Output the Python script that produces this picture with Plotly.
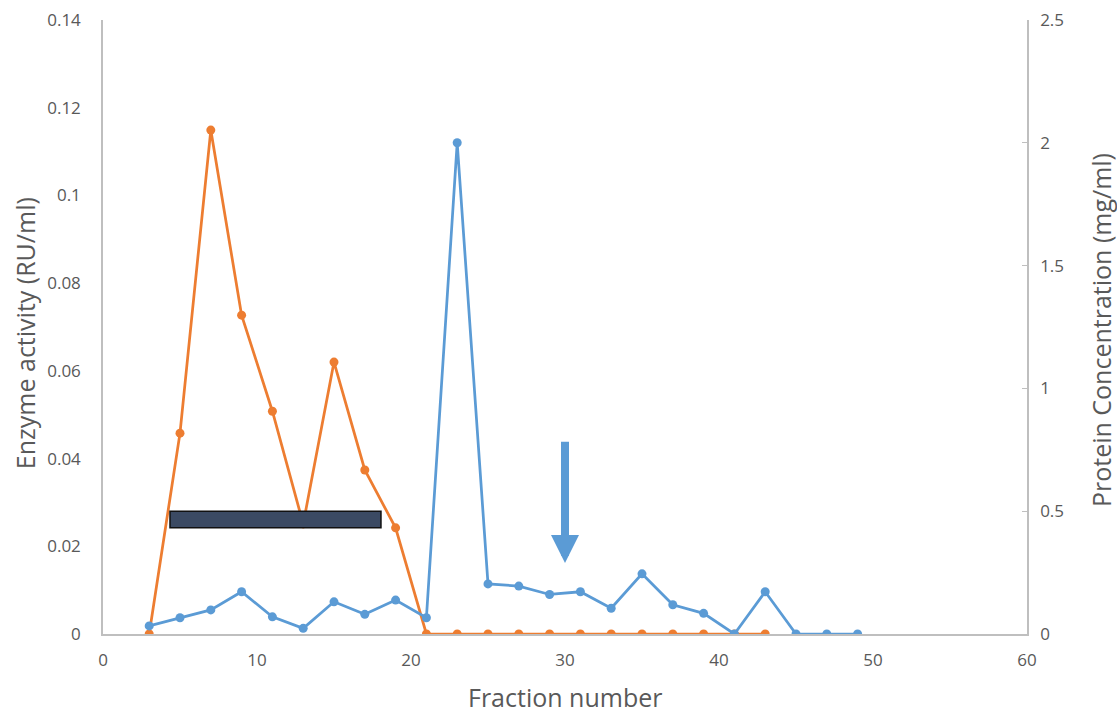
import plotly.graph_objects as go

# Data
fraction_orange = [3, 5, 7, 9, 11, 13, 15, 17, 19, 21, 23, 25, 27, 29, 31, 33, 35, 37, 39, 41, 43]
enzyme_activity = [0.0, 0.0458, 0.1149, 0.0727, 0.0508, 0.0251, 0.062, 0.0374, 0.0242, 0.0,
                   0.0, 0.0, 0.0, 0.0, 0.0, 0.0, 0.0, 0.0, 0.0, 0.0, 0.0]

fraction_blue = [3, 5, 7, 9, 11, 13, 15, 17, 19, 21, 23, 25, 27, 29, 31, 33, 35, 37, 39, 41, 43, 45, 47, 49]
protein_conc = [0.033, 0.066, 0.098, 0.172, 0.07, 0.023, 0.131, 0.08, 0.138, 0.066,
                2.0, 0.204, 0.195, 0.161, 0.172, 0.105, 0.245, 0.119, 0.084, 0.0,
                0.172, 0.0, 0.0, 0.0]

# Tick labels
x_ticks = [0, 10, 20, 30, 40, 50, 60]
y_left_ticks = [0, 0.02, 0.04, 0.06, 0.08, 0.1, 0.12, 0.14]
y_left_labels = ["0", "0.02", "0.04", "0.06", "0.08", "0.1", "0.12", "0.14"]
y_right_ticks = [0, 0.5, 1, 1.5, 2, 2.5]
y_right_labels = ["0", "0.5", "1", "1.5", "2", "2.5"]

# Axis titles
x_title = "Fraction number"
y_left_title = "Enzyme activity (RU/ml)"
y_right_title = "Protein Concentration (mg/ml)"

# Annotation elements (pooled fractions bar and arrow)
bar_x = [4.35, 18.05]
bar_y = [0.0242, 0.0280]
arrow_x = 30
arrow_y = [0.0442, 0.0162]

ORANGE = "#ED7D31"
BLUE = "#5B9BD5"
GRAY_TXT = "#595959"
AXIS = "#BFBFBF"
FONT = "Open Sans"

fig = go.Figure()
fig.add_trace(go.Scatter(
    x=fraction_orange, y=enzyme_activity, mode="lines+markers",
    line=dict(color=ORANGE, width=2.75), marker=dict(color=ORANGE, size=9),
    yaxis="y", name="Enzyme activity"))
fig.add_trace(go.Scatter(
    x=fraction_blue, y=protein_conc, mode="lines+markers",
    line=dict(color=BLUE, width=2.75), marker=dict(color=BLUE, size=9),
    yaxis="y2", name="Protein concentration"))

fig.add_shape(type="rect", xref="x", yref="y",
              x0=bar_x[0], x1=bar_x[1], y0=bar_y[0], y1=bar_y[1],
              fillcolor="#3B4A63", line=dict(color="#111111", width=1.5), layer="above")

fig.add_annotation(x=arrow_x, y=arrow_y[1], ax=arrow_x, ay=arrow_y[0],
                   xref="x", yref="y", axref="x", ayref="y",
                   showarrow=True, arrowhead=2, arrowsize=0.7, arrowwidth=8,
                   arrowcolor=BLUE, text="")

# Axis titles as annotations for precise placement
title_font = dict(size=25, color=GRAY_TXT, family=FONT)
fig.add_annotation(text=y_left_title, xref="paper", yref="paper", x=0, y=0.49,
                   xanchor="center", yanchor="middle", xshift=-78, textangle=-90,
                   showarrow=False, font=title_font)
fig.add_annotation(text=y_right_title, xref="paper", yref="paper", x=1, y=0.495,
                   xanchor="center", yanchor="middle", xshift=74, textangle=-90,
                   showarrow=False, font=title_font)
fig.add_annotation(text=x_title, xref="paper", yref="paper", x=0.5, y=0,
                   xanchor="center", yanchor="middle", yshift=-63,
                   showarrow=False, font=title_font)

fig.update_layout(
    width=1117, height=713,
    margin=dict(l=103, r=90, t=20, b=79, autoexpand=False),
    plot_bgcolor="white", paper_bgcolor="white",
    showlegend=False,
    font=dict(family=FONT, color=GRAY_TXT, size=17),
    xaxis=dict(range=[0, 60], tickmode="array", tickvals=x_ticks,
               showgrid=False, zeroline=False,
               showline=True, linecolor=AXIS, linewidth=1.5, ticks="",
               ticklabelstandoff=10, ticklabeloverflow="allow",
               tickfont=dict(size=17, color=GRAY_TXT)),
    yaxis=dict(range=[0, 0.14], tickmode="array", tickvals=y_left_ticks, ticktext=y_left_labels,
               showgrid=False, zeroline=False,
               showline=True, linecolor=AXIS, linewidth=1.5, ticks="",
               ticklabelstandoff=17, ticklabeloverflow="allow",
               tickfont=dict(size=17, color=GRAY_TXT)),
    yaxis2=dict(range=[0, 2.5], tickmode="array", tickvals=y_right_ticks, ticktext=y_right_labels,
                overlaying="y", side="right",
                showgrid=False, zeroline=False, showline=True, linecolor=AXIS, linewidth=1.5,
                ticks="inside", ticklen=5, tickcolor=AXIS,
                ticklabelstandoff=8, ticklabeloverflow="allow",
                tickfont=dict(size=17, color=GRAY_TXT)),
)

fig.write_html("out.html",
               config={"displayModeBar": False},
               post_script="document.body.style.margin='0';document.body.style.overflow='hidden';")
